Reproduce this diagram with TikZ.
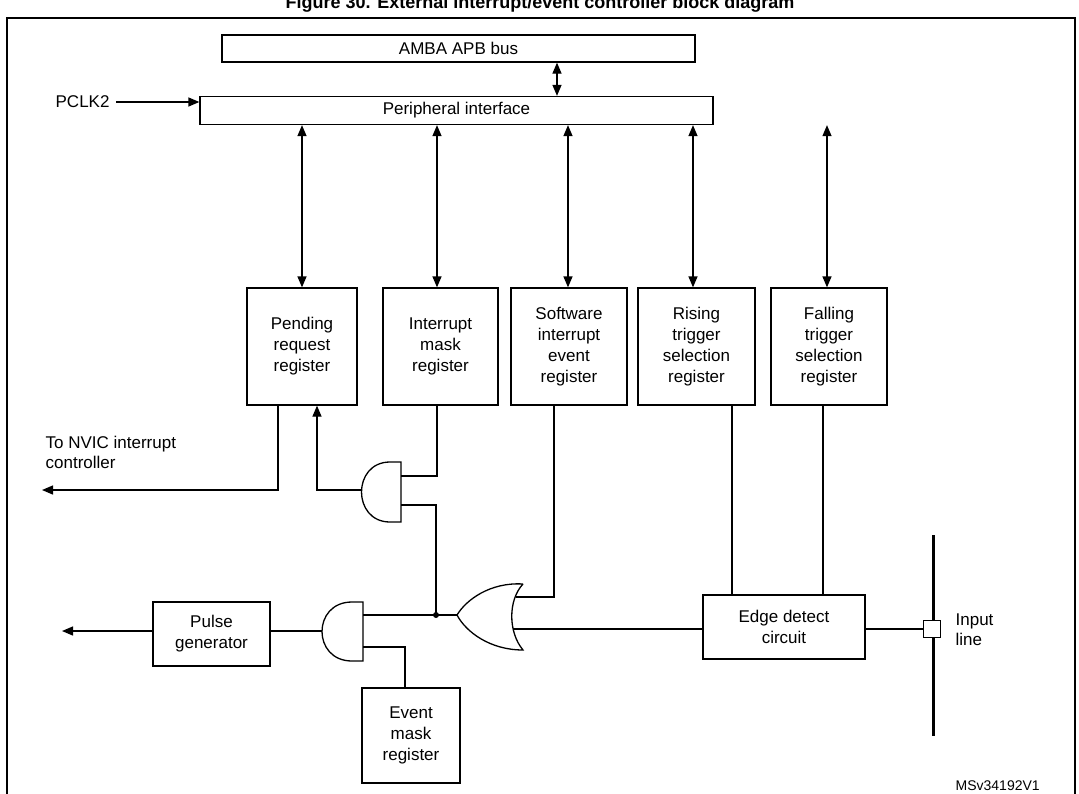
\documentclass[tikz,border=0pt]{standalone}
\usepackage{fontspec}
\setmainfont{Liberation Sans}
\usetikzlibrary{arrows.meta}
\begin{document}
\begin{tikzpicture}[x=1pt,y=-1pt,line width=1.3pt,
  box/.style={draw,line width=1.3pt,inner sep=0pt,align=center,font=\fontsize{17}{21}\selectfont},
  lbl/.style={inner sep=0pt,align=left,font=\fontsize{17}{20}\selectfont},
  arr/.style={-{Triangle[length=11pt,width=9pt]}},
  biarr/.style={{Triangle[length=11pt,width=9pt]}-{Triangle[length=11pt,width=9pt]}}]
\useasboundingbox (0,0) rectangle (1079,793);
\node[font=\bfseries\fontsize{18}{20}\selectfont,anchor=base] (title) at (540,8) {Figure 30. External interrupt/event controller block diagram};
\draw[line width=1.5pt] (7,820) -- (7,18) -- (1075,18) -- (1075,820);
% bus
\node[box,minimum width=473pt,minimum height=27pt] (amba) at (458.5,48.5) {AMBA APB bus};
\node[box,minimum width=513pt,minimum height=28pt] (per) at (456.5,110.5) {Peripheral interface};
\node[lbl,anchor=west] (pclk) at (55,102) {PCLK2};
\draw[arr] (pclk.east)++(6,0) coordinate (pc) -- (per.west|-pc);
\draw[biarr] (amba.south-|557,0) -- (per.north-|557,0);
% registers
\node[box,minimum width=110pt,minimum height=117pt] (pend) at (302,346.5) {Pending\\request\\register};
\node[box,minimum width=115pt,minimum height=117pt] (imask) at (440.5,346.5) {Interrupt\\mask\\register};
\node[box,minimum width=116pt,minimum height=117pt] (sw) at (569,346.5) {Software\\interrupt\\event\\register};
\node[box,minimum width=117pt,minimum height=117pt] (rise) at (696.5,346.5) {Rising\\trigger\\selection\\register};
\node[box,minimum width=116pt,minimum height=117pt] (fall) at (829,346.5) {Falling\\trigger\\selection\\register};
\foreach \n/\x in {pend/302,imask/437,sw/568,rise/693,fall/827}
  \draw[biarr] (per.south-|\x,0) -- (\n.north-|\x,0);
% NVIC
\node[lbl,anchor=north west] (nvic) at (45,436) {To NVIC interrupt\\controller};
\coordinate (nv) at (42,490);
\draw[arr] (pend.south-|278,0) |- (nv);
% AND1
\draw (401,462) -- (390,462) .. controls (352,462) and (352,522) .. (390,522) -- (401,522) -- cycle;
\coordinate (a1o) at (362,490);
\coordinate (a1i1) at (401,476);
\coordinate (a1i2) at (401,505);
\draw[arr] (a1o) -| (pend.south-|317,0);
\draw (imask.south-|437,0) |- (a1i1);
% OR
\draw (523,584) .. controls (490,582) and (466,600) .. (457,615) .. controls (466,632) and (490,650) .. (523,650) .. controls (508,632) and (508,600) .. (523,584);
\coordinate (oro) at (457,615);
\coordinate (ori1) at (516,597);
\coordinate (ori2) at (513,629);
\coordinate (jn) at (436,615);
\fill (jn) circle (3pt);
\draw (oro) -- (jn);
\draw (jn) |- (a1i2);
\draw (sw.south-|554,0) |- (ori1);
% AND2
\draw (363,602) -- (352,602) .. controls (312,602) and (312,661) .. (352,661) -- (363,661) -- cycle;
\coordinate (a2o) at (322,631);
\coordinate (a2i2) at (363,647);
\draw (jn) -- (363,615);
\node[box,minimum width=117pt,minimum height=64pt] (pulse) at (211.5,634) {Pulse\\generator};
\draw (a2o) -- (pulse.east|-a2o);
\coordinate (pout) at (62,631);
\draw[arr] (pulse.west|-pout) -- (pout);
\node[box,minimum width=98pt,minimum height=95pt] (emask) at (411,735.5) {Event\\mask\\register};
\draw (a2i2) -| (emask.north-|405,0);
% edge detect
\node[box,minimum width=162pt,minimum height=64pt] (edge) at (784,627) {Edge detect\\circuit};
\draw (rise.south-|732,0) -- (edge.north-|732,0);
\draw (fall.south-|823,0) -- (edge.north-|823,0);
\draw (edge.west|-ori2) -- (ori2);
\draw[line width=3pt] (933,535) -- (933,736);
\node[draw,fill=white,minimum size=17pt,inner sep=0pt,line width=1.3pt] (pin) at (932,629) {};
\draw (edge.east|-pin) -- (pin.west);
\node[lbl,anchor=west] (inl) at (955,630) {Input\\line};
\node[lbl,anchor=base west,font=\fontsize{14}{16}\selectfont] (ms) at (955,790) {MSv34192V1};
\end{tikzpicture}
\end{document}
